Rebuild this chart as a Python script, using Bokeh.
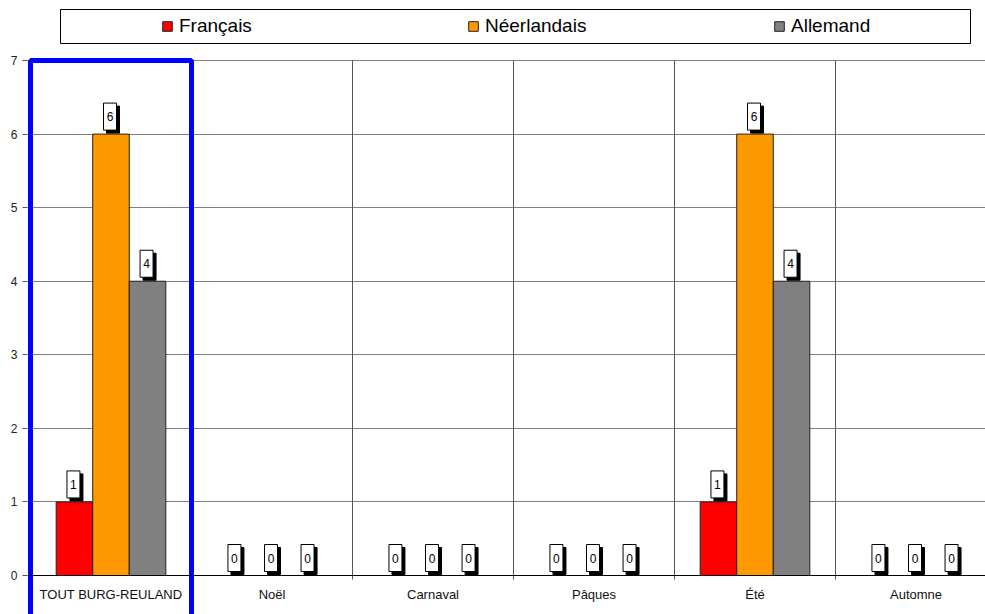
from bokeh.plotting import figure
from bokeh.models import Range1d, FixedTicker, Span, Legend, LegendItem
from bokeh.core.properties import value
from bokeh.embed import file_html
from bokeh.resources import INLINE

# ---- data ----
categories = ["TOUT BURG-REULAND", "Noël", "Carnaval", "Pâques", "Été", "Automne"]
series_names = ["Français", "Néerlandais", "Allemand"]
francais = [1, 0, 0, 0, 1, 0]
neerlandais = [6, 0, 0, 0, 6, 0]
allemand = [4, 0, 0, 0, 4, 0]
y_ticks = [0, 1, 2, 3, 4, 5, 6, 7]

colors = ["#FF0000", "#FF9900", "#808080"]
FONT = "Liberation Sans"

# ---- layout (pixels) ----
W, H = 985, 614
BORDER_L = 27
CAT_PX = 161.0          # pixels per category
PPU = 73.57             # pixels per value unit
ZERO_FROM_TOP = 575     # frame-top to value 0
LEFT_PAD_PX = 3         # frame-left to category 0 start

frame_w = W - BORDER_L
x0 = -LEFT_PAD_PX / CAT_PX
x1 = x0 + frame_w / CAT_PX
y1 = ZERO_FROM_TOP / PPU
y0 = y1 - H / PPU

p = figure(width=W, height=H, x_range=Range1d(x0, x1), y_range=Range1d(y0, y1),
           output_backend="svg", toolbar_location=None, x_axis_location=None,
           min_border_left=BORDER_L, min_border_right=0, min_border_top=0,
           min_border_bottom=0)
p.outline_line_color = None
p.background_fill_color = "white"
p.xgrid.visible = False

top_val = max(y_ticks)
p.ygrid.ticker = FixedTicker(ticks=y_ticks)
p.ygrid.grid_line_color = "#808080"
p.ygrid.grid_line_width = 1

ax = p.yaxis[0]
ax.ticker = FixedTicker(ticks=y_ticks)
ax.axis_line_color = None
ax.major_tick_in = 0
ax.major_tick_out = 5
ax.major_tick_line_color = "#555555"
ax.minor_tick_line_color = None
ax.major_label_text_font = FONT
ax.major_label_text_font_size = "12px"
ax.major_label_text_color = "#222222"
ax.major_label_standoff = 5

n = len(categories)
centers = [i + 0.5 for i in range(n)]

# vertical category separators (with small tick below axis)
bounds = list(range(1, n + 1))
p.segment(x0=bounds, x1=bounds, y0=[-4 / PPU] * len(bounds), y1=[top_val] * len(bounds),
          line_color="#555555", line_width=1)

# x axis line
p.add_layout(Span(location=0, dimension="width", line_color="#000000", line_width=1))

bar_w = 0.227
offsets = [-bar_w, 0.0, bar_w]
all_series = [francais, neerlandais, allemand]
renderers = []
for vals, off, col in zip(all_series, offsets, colors):
    xs = [c + off for c in centers]
    r = p.vbar(x=xs, top=vals, width=bar_w, bottom=0, fill_color=col,
               line_color="#222222", line_width=1)
    renderers.append(r)

# data labels (box + shadow + text)
GAP = 4
BOX_W, BOX_H = 13, 27
SH = 3
for vals, off in zip(all_series, offsets):
    xs = [c + off - 1 / CAT_PX for c in centers]
    ys_box = [v + (GAP + BOX_H / 2) / PPU for v in vals]
    p.rect(x=[x + SH / CAT_PX for x in xs], y=[y - SH / PPU for y in ys_box],
           width=BOX_W, height=BOX_H, width_units="screen", height_units="screen",
           fill_color="black", line_color="black")
    p.rect(x=xs, y=ys_box, width=BOX_W, height=BOX_H, width_units="screen",
           height_units="screen", fill_color="white", line_color="black", line_width=1)
    p.text(x=xs, y=vals, text=[str(v) for v in vals], y_offset=-(GAP + BOX_H / 2),
           text_align="center", text_baseline="middle", text_font=value(FONT),
           text_font_size="12px", text_color="black")

# category labels
p.text(x=centers, y=[-19 / PPU] * n, text=categories, text_align="center",
       text_baseline="middle", text_font=value(FONT), text_font_size="13px",
       text_color="#111111")

# highlight rectangle around first category
p.quad(left=[0], right=[1], bottom=[y0 - 1], top=[top_val], fill_color=None,
       line_color="#0000FF", line_width=5)

# legend box
LEG_L, LEG_R, LEG_T, LEG_B = 33, 943, 9, 43   # px relative to frame-left / frame-top
p.quad(left=[x0 + LEG_L / CAT_PX], right=[x0 + LEG_R / CAT_PX],
       top=[y1 - LEG_T / PPU], bottom=[y1 - LEG_B / PPU],
       fill_color="white", line_color="#000000", line_width=1)

legend = Legend(items=[LegendItem(label=nm, renderers=[r]) for nm, r in zip(series_names, renderers)],
                orientation="horizontal", location=(134, 577),
                glyph_width=12, glyph_height=12, label_standoff=6,
                label_width=284, label_height=20, spacing=4, padding=0, margin=0,
                label_text_font=FONT, label_text_font_size="19px",
                label_text_color="#000000",
                border_line_color=None, background_fill_alpha=0)
p.add_layout(legend)

open("out.html", "w").write(file_html(p, INLINE))
